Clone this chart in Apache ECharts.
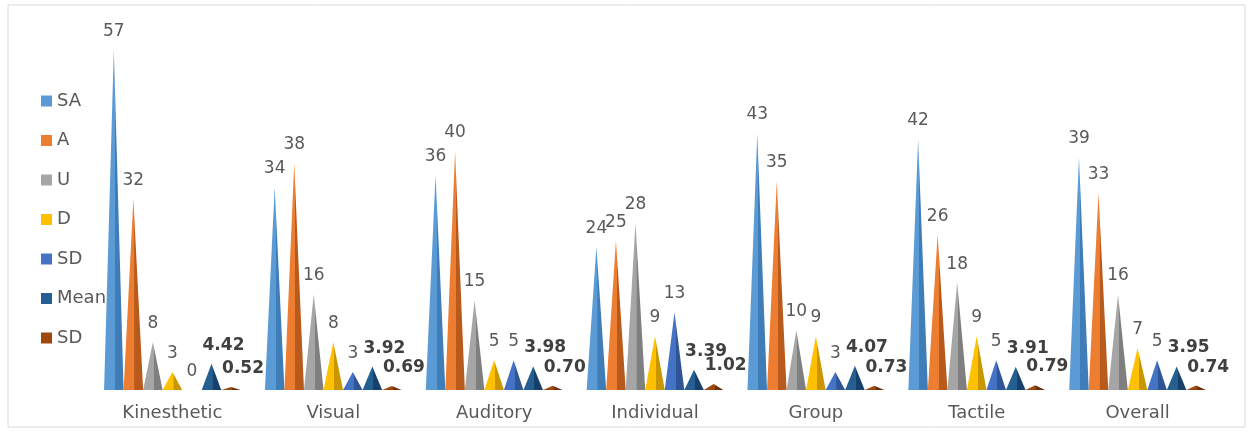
<!DOCTYPE html>
<html>
<head>
<meta charset="utf-8">
<script src="https://cdn.jsdelivr.net/npm/echarts@6/dist/echarts.min.js"></script>
<style>
  html, body { margin: 0; padding: 0; background: #fff; }
  #chart { width: 1252px; height: 432px; }
</style>
</head>
<body>
<div id="chart"></div>
<script>
// categories along the x axis
const categories = ["Kinesthetic", "Visual", "Auditory", "Individual", "Group", "Tactile", "Overall"];
// series names (legend order)
const seriesNames = ["SA", "A", "U", "D", "SD", "Mean", "SD"];

const sa   = [57, 34, 36, 24, 43, 42, 39];
const agr  = [32, 38, 40, 25, 35, 26, 33];
const und  = [8, 16, 15, 28, 10, 18, 16];
const dis  = [3, 8, 5, 9, 9, 9, 7];
const sdis = [0, 3, 5, 13, 3, 5, 5];
const mean = [4.42, 3.92, 3.98, 3.39, 4.07, 3.91, 3.95];
const sdev = [0.52, 0.69, 0.70, 1.02, 0.73, 0.79, 0.74];

const values = [sa, agr, und, dis, sdis, mean, sdev];

// Office palette: base colour + darker side face
const colors = ["#5B9BD5", "#ED7D31", "#A5A5A5", "#FFC000", "#4472C4", "#255E91", "#9E480E"];
const shades = ["#3F7DB8", "#B85A1B", "#7F7F7F", "#C99600", "#2F5597", "#17406A", "#6E300A"];

const FONT = "DejaVu Sans";

const chart = echarts.init(document.getElementById("chart"));

// second "SD" gets a trailing space so the legend keeps both entries
const seriesKeys = seriesNames.map((n, i) => (i === 6 ? n + " " : n));

const series = seriesNames.map((n, i) => {
  const isStat = i >= 5;
  return {
    name: seriesKeys[i],
    type: "pictorialBar",
    symbol: "triangle",
    symbolSize: ["100%", "100%"],
    barGap: "0%",
    barCategoryGap: "15%",
    data: values[i],
    itemStyle: {
      color: new echarts.graphic.LinearGradient(0, 0, 1, 0, [
        { offset: 0, color: colors[i] },
        { offset: 0.55, color: colors[i] },
        { offset: 0.56, color: shades[i] },
        { offset: 1, color: shades[i] }
      ])
    },
    label: {
      show: true,
      position: "top",
      distance: 10,
      offset: isStat ? [12, 0] : [0, 0],
      color: isStat ? "#404040" : "#595959",
      fontWeight: isStat ? "bold" : "normal",
      fontSize: 17,
      fontFamily: FONT,
      formatter: (p) => isStat ? p.value.toFixed(2) : String(p.value)
    }
  };
});

const option = {
  backgroundColor: "#ffffff",
  animation: false,
  color: colors,
  graphic: [{
    type: "rect",
    shape: { x: 8, y: 5, width: 1237, height: 422 },
    style: { fill: "none", stroke: "#d9d9d9", lineWidth: 1 },
    silent: true
  }],
  legend: {
    orient: "vertical",
    left: 36,
    top: 87,
    itemWidth: 11,
    itemHeight: 11,
    itemGap: 21.5,
    icon: "rect",
    data: seriesKeys.map((k, i) => ({ name: k, itemStyle: { color: colors[i] } })),
    textStyle: { color: "#595959", fontSize: 18, fontFamily: FONT },
    formatter: (name) => name.trim()
  },
  grid: { left: 92, right: 34, top: 32, bottom: 42 },
  xAxis: {
    type: "category",
    data: categories,
    axisLine: { show: false },
    axisTick: { show: false },
    axisLabel: { color: "#595959", fontSize: 18, fontFamily: FONT, margin: 14 }
  },
  yAxis: {
    type: "value",
    min: 0,
    max: 60,
    show: false,
    splitLine: { show: false }
  },
  series: series
};

chart.setOption(option);
</script>
</body>
</html>
